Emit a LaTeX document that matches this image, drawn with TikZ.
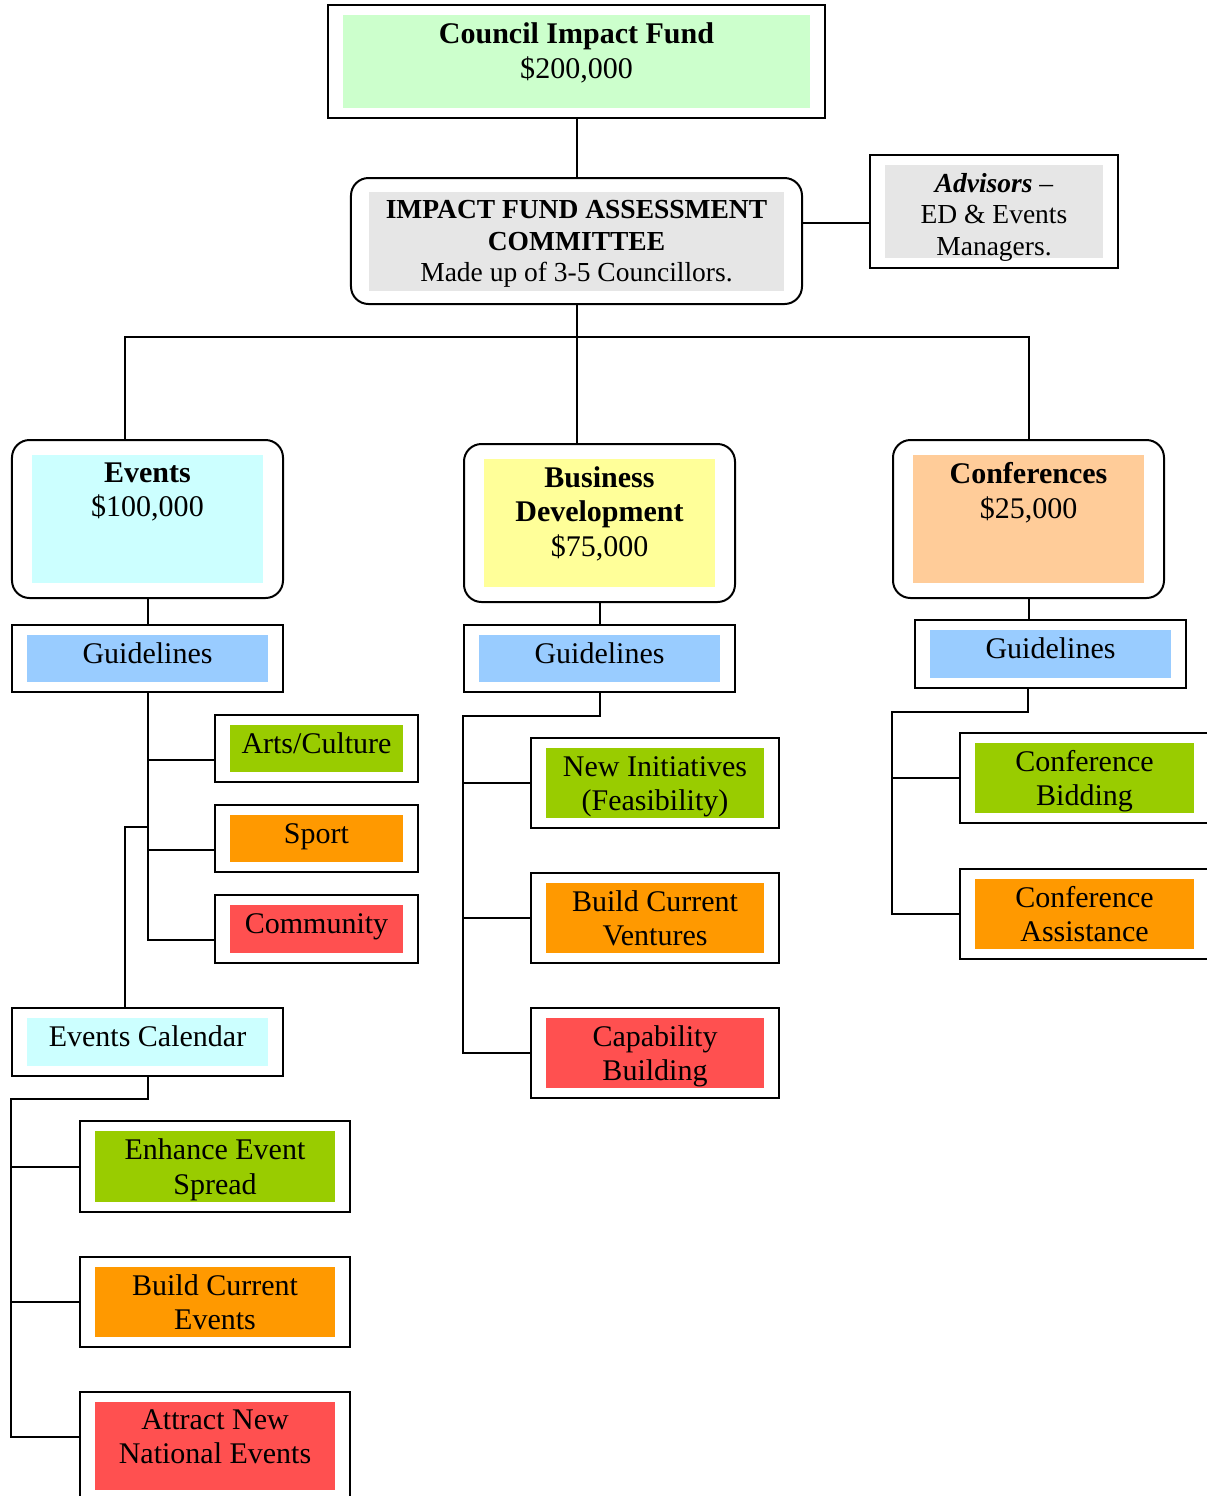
\documentclass[tikz,border=0pt]{standalone}
\usepackage{fontspec}
\setmainfont{Liberation Serif}
\usetikzlibrary{positioning}

\definecolor{mint}{HTML}{CCFFCC}
\definecolor{greybg}{HTML}{E6E6E6}
\definecolor{aqua}{HTML}{CCFFFF}
\definecolor{lemon}{HTML}{FFFF99}
\definecolor{peach}{HTML}{FFCC99}
\definecolor{sky}{HTML}{99CCFF}
\definecolor{lime}{HTML}{99CC00}
\definecolor{amber}{HTML}{FF9900}
\definecolor{coral}{HTML}{FF5050}

\tikzset{
  frame/.style={draw, line width=0.8pt, inner sep=0pt, align=center,
    font=\fontsize{12}{13.8}\selectfont},
  roundframe/.style={frame, rounded corners=7pt},
  dims/.style 2 args={minimum width=#1, minimum height=#2},
  inset/.style n args={3}{path picture={\fill[#1, sharp corners]
    ([shift={(#2,#3)}]path picture bounding box.south west) rectangle
    ([shift={(-#2,-#3)}]path picture bounding box.north east);}},
  tag/.style={inset={#1}{6pt}{4pt}},
  single/.style={text height=8.2pt, text depth=4.6pt},
  multi/.style={text height=25.2pt, text depth=3pt},
  txt/.style={inner sep=0pt, align=center, font=\fontsize{12}{13.8}\selectfont},
  wire/.style={line width=0.8pt}
}

\begin{document}
\begin{tikzpicture}[x=0.4pt, y=-0.4pt]
    \useasboundingbox (0,0) rectangle (1207,1496);
    \clip (0,0) rectangle (1207,1496);

    % top of the tree
    \node[frame, dims={198.8pt}{45.2pt}, tag=mint] (cif) at (576.5,61.5) {};
    \node[txt, below=7.3pt of cif.north] (ciftxt) {\textbf{Council Impact Fund}\\\$200,000};
    \node[roundframe, dims={180.4pt}{50.4pt}, inset={greybg}{7.4pt}{5.4pt},
      font=\fontsize{11}{12.6}\selectfont, text height=34.8pt, text depth=2.4pt] (iac) at (576.5,241)
      {\textbf{IMPACT FUND ASSESSMENT}\\\textbf{COMMITTEE}\\Made up of 3-5 Councillors.};
    \node[frame, dims={99.2pt}{45.2pt}, tag=greybg,
      font=\fontsize{11}{12.6}\selectfont, text height=37.2pt, text depth=2.4pt] (adv) at (994,211.5)
      {\textbf{\textit{Advisors}} –\\ED \& Events\\Managers.};

    % three funds
    \node[roundframe, dims={108.4pt}{63.2pt}, inset={aqua}{8pt}{6pt}] (ev) at (147.5,519) {};
    \node[txt, below=9.2pt of ev.north] (evtxt) {\textbf{Events}\\\$100,000};
    \node[roundframe, dims={108.4pt}{63.2pt}, inset={lemon}{8pt}{6pt}] (bd) at (599.5,523) {};
    \node[txt, below=9.2pt of bd.north] (bdtxt) {\textbf{Business}\\\textbf{Development}\\\$75,000};
    \node[roundframe, dims={108.4pt}{63.2pt}, inset={peach}{8pt}{6pt}] (cf) at (1028.5,519) {};
    \node[txt, below=9.2pt of cf.north] (cftxt) {\textbf{Conferences}\\\$25,000};

    \node[frame, single, dims={108.4pt}{26.8pt}, tag=sky] (evg) at (147.5,658.5) {Guidelines};
    \node[frame, single, dims={108.4pt}{26.8pt}, tag=sky] (bdg) at (599.5,658.5) {Guidelines};
    \node[frame, single, dims={108.4pt}{27.2pt}, tag=sky] (cfg) at (1050.5,654) {Guidelines};

    % events branch
    \node[frame, single, dims={81.2pt}{26.8pt}, tag=lime] (arts) at (316.5,748.5) {Arts/Culture};
    \node[frame, single, dims={81.2pt}{26.8pt}, tag=amber] (sport) at (316.5,838.5) {Sport};
    \node[frame, single, dims={81.2pt}{27.2pt}, tag=coral] (comm) at (316.5,929) {Community};
    \node[frame, single, dims={108.4pt}{27.2pt}, tag=aqua] (cal) at (147.5,1042) {Events Calendar};
    \node[frame, multi, dims={108pt}{36.2pt}, tag=lime] (enh) at (215,1166.5) {Enhance Event\\Spread};
    \node[frame, multi, dims={108pt}{36.2pt}, tag=amber] (bce) at (215,1302) {Build Current\\Events};
    \node[frame, dims={108pt}{43.2pt}, tag=coral] (anat) at (215,1446) {};
    \node[txt, below=7.2pt of anat.north] (anattxt) {Attract New\\National Events};

    % business branch
    \node[frame, multi, dims={99.2pt}{36pt}, tag=lime] (ni) at (655,783) {New Initiatives\\(Feasibility)};
    \node[frame, multi, dims={99.2pt}{36pt}, tag=amber] (bcv) at (655,918) {Build Current\\Ventures};
    \node[frame, multi, dims={99.2pt}{36pt}, tag=coral] (cap) at (655,1053) {Capability\\Building};

    % conference branch
    \node[frame, multi, dims={99.6pt}{36pt}, tag=lime] (cbid) at (1084.5,778) {Conference\\Bidding};
    \node[frame, multi, dims={99.6pt}{36pt}, tag=amber] (cass) at (1084.5,914) {Conference\\Assistance};

    % connectors
    \draw[wire] (cif) -- (iac);
    \coordinate (advin) at ([yshift=-4.6pt]adv.west);
    \draw[wire] (advin) -- (iac.east |- advin);
    \coordinate (hbar) at ([yshift=-12.8pt]iac.south);
    \draw[wire] (iac.south) -- (iac.south |- bd.north);
    \draw[wire] ([xshift=-9pt]ev.north) |- (hbar) -| (cf.north);

    \draw[wire] (ev.south) -- (evg.north);
    \draw[wire] (bd.south) -- (bdg.north);
    \draw[wire] (cf.south) -- (cf.south |- cfg.north);

    \draw[wire] (evg.south) |- ([yshift=-4.6pt]arts.west);
    \draw[wire] (evg.south) |- ([yshift=-4.6pt]sport.west);
    \draw[wire] (evg.south) |- ([yshift=-4.4pt]comm.west);
    \coordinate (calj) at ([yshift=4.6pt]sport.west);
    \draw[wire] (calj -| evg.south) -| ([xshift=-9pt]cal.north);

    \coordinate (calk) at ([yshift=-8.8pt]cal.south);
    \coordinate (anatin) at ([yshift=3.6pt]anat.west);
    \draw[wire] (cal.south) -- (calk) -| (cal.west |- anatin) -- (anatin);
    \draw[wire] (cal.west |- enh.west) -- (enh.west);
    \draw[wire] (cal.west |- bce.west) -- (bce.west);

    \coordinate (bdk) at ([yshift=-9.2pt]bdg.south);
    \draw[wire] (bdg.south) -- (bdk) -| (bdg.west |- cap.west) -- (cap.west);
    \draw[wire] (bdg.west |- ni.west) -- (ni.west);
    \draw[wire] (bdg.west |- bcv.west) -- (bcv.west);

    \coordinate (cfk) at ([xshift=-9pt, yshift=-9.2pt]cfg.south);
    \draw[wire] ([xshift=-9pt]cfg.south) -- (cfk) -| (cf.west |- cass.west) -- (cass.west);
    \draw[wire] (cf.west |- cbid.west) -- (cbid.west);
\end{tikzpicture}
\end{document}
